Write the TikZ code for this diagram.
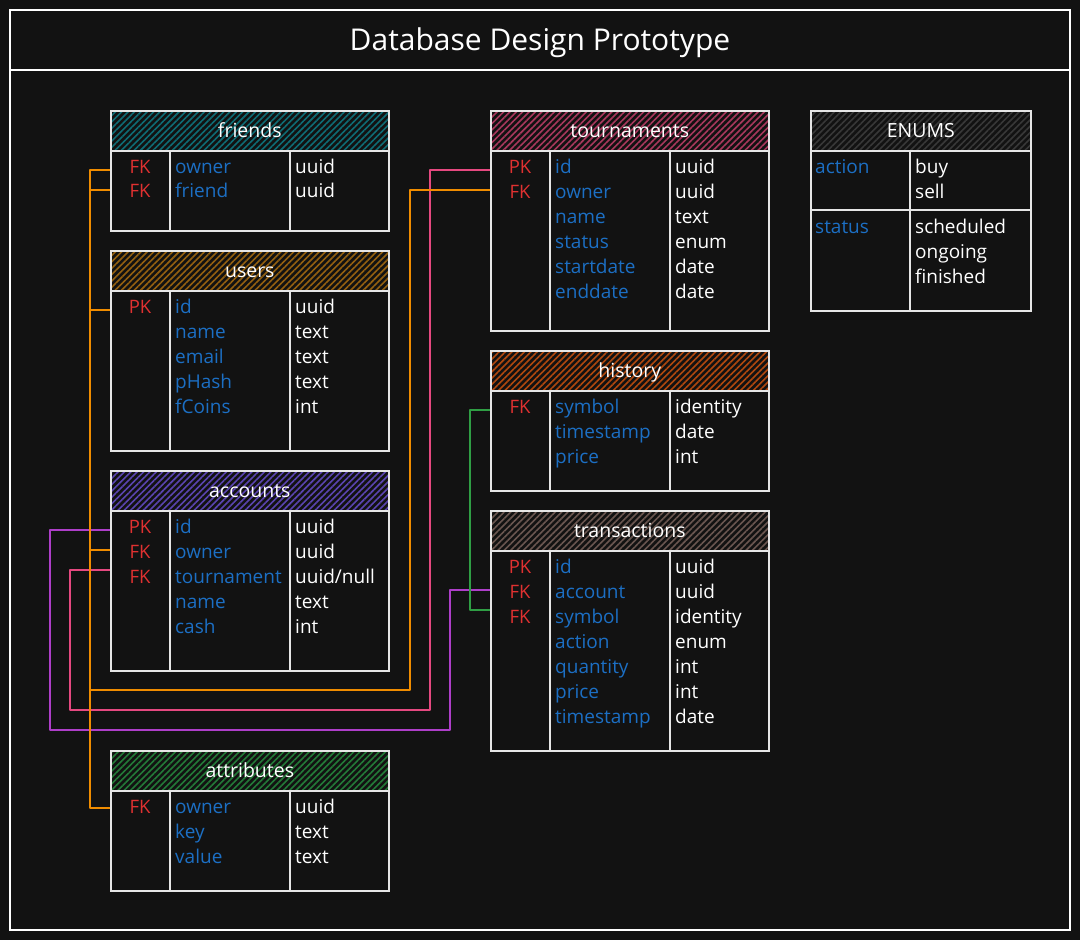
\documentclass[tikz,border=0pt]{standalone}
\usepackage{fontspec}
\setmainfont{Open Sans}
\usetikzlibrary{patterns.meta}
\definecolor{bg}{HTML}{121212}
\definecolor{tline}{HTML}{E6E6E6}
\definecolor{keyred}{HTML}{E03131}
\definecolor{fieldblue}{HTML}{1C6FC4}
\definecolor{corange}{HTML}{F08C00}
\definecolor{cpink}{HTML}{E64980}
\definecolor{cpurple}{HTML}{AE3EC9}
\definecolor{cgreen}{HTML}{2F9E44}
\definecolor{hteal}{HTML}{0E6C75}
\definecolor{hbrown}{HTML}{946010}
\definecolor{hpurple}{HTML}{5A44B0}
\definecolor{hpink}{HTML}{A8385C}
\definecolor{horange}{HTML}{B0480E}
\definecolor{hgray}{HTML}{6A5650}
\definecolor{hgreen}{HTML}{237A38}
\definecolor{hdark}{HTML}{383838}
\tikzset{
  hdr/.style={draw=tline, line width=1.6pt, minimum height=40pt, inner sep=0pt,
    text=white, text height=14pt, text depth=0pt,
    font=\fontsize{19.5}{22}\selectfont,
    pattern={Lines[angle=45,distance=4.5pt,line width=1.6pt]}},
  tbody/.style={draw=tline, line width=1.6pt, inner sep=0pt},
  grid/.style={draw=tline, line width=1.6pt},
  keyt/.style={text=keyred, anchor=base, inner sep=0pt, font=\fontsize{18.5}{22}\selectfont},
  fieldt/.style={text=fieldblue, anchor=base west, inner sep=0pt, font=\fontsize{19}{22}\selectfont},
  typet/.style={text=white, anchor=base west, inner sep=0pt, font=\fontsize{19}{22}\selectfont},
  con/.style={line width=2.2pt, line join=round},
  frame/.style={draw=white, line width=2pt},
}
% name, left, top, width, body height, column 1, column 2, title, colour
\newcommand{\dbtable}[9]{%
  \node[hdr, pattern color=#9, minimum width=#4pt, anchor=north west] (#1-h) at (#2,#3) {#8};
  \node[tbody, minimum width=#4pt, minimum height=#5pt, anchor=north west] (#1-b) at (#2,#3+40) {};
  \draw[grid] (#2+#6,#3+40) -- (#2+#6,#3+40+#5);
  \draw[grid] (#2+#7,#3+40) -- (#2+#7,#3+40+#5);
}
\newcommand{\dbkey}[4]{\node[keyt] (#1) at (#2+30,#3) {#4};}
\newcommand{\dbfield}[5]{\node[fieldt] (#1-f) at (#2+65,#3) {#4};\node[typet] (#1-t) at (#2+185,#3) {#5};}
\begin{document}
\begin{tikzpicture}[x=1pt,y=-1pt]
\fill[bg] (0,0) rectangle (1080,940);
\useasboundingbox (0,0) rectangle (1080,940);
% frame
\draw[frame] (10,10) rectangle (1070,930);
\draw[frame] (10,70) -- (1070,70);
\node[text=white, anchor=base, inner sep=0pt, font=\fontsize{30}{34}\selectfont] (title) at (540,50) {Database Design Prototype};

% connector anchor points
\coordinate (fr-p1) at (110,170);
\coordinate (fr-p2) at (110,190);
\coordinate (us-p1) at (110,310);
\coordinate (ac-p1) at (110,530);
\coordinate (ac-p2) at (110,550);
\coordinate (ac-p3) at (110,570);
\coordinate (at-p1) at (110,808);
\coordinate (tn-p1) at (490,170);
\coordinate (tn-p2) at (490,190);
\coordinate (hi-p1) at (490,410);
\coordinate (tx-p2) at (490,590);
\coordinate (tx-p3) at (490,610);
\coordinate (oT) at (90,170);
\coordinate (oB) at (90,808);
\coordinate (oJ) at (410,690);
\coordinate (pA) at (70,710);
\coordinate (pB) at (430,710);
\coordinate (uA) at (50,730);
\coordinate (uB) at (450,730);
\coordinate (gA) at (470,610);

% connectors
\draw[con, cpurple] (ac-p1) -| (uA) -- (uB) |- (tx-p2);
\draw[con, cpink] (ac-p3) -| (pA) -- (pB) |- (tn-p1);
\draw[con, cgreen] (hi-p1) -| (gA) -- (tx-p3);
\draw[con, corange] (fr-p1) -- (oT) -- (oB) -- (at-p1);
\draw[con, corange] (fr-p2) -- (fr-p2 -| oT);
\draw[con, corange] (us-p1) -- (us-p1 -| oT);
\draw[con, corange] (ac-p2) -- (ac-p2 -| oT);
\draw[con, corange] (tn-p2) -| (oJ) -- (oJ -| oT);

% friends
\dbtable{fr}{110}{110}{278}{80}{60}{180}{friends}{hteal}
\dbkey{fr-k1}{110}{173}{FK}
\dbkey{fr-k2}{110}{197}{FK}
\dbfield{fr-r1}{110}{173}{owner}{uuid}
\dbfield{fr-r2}{110}{197}{friend}{uuid}

% users
\dbtable{us}{110}{250}{278}{160}{60}{180}{users}{hbrown}
\dbkey{us-k1}{110}{313}{PK}
\dbfield{us-r1}{110}{313}{id}{uuid}
\dbfield{us-r2}{110}{338}{name}{text}
\dbfield{us-r3}{110}{363}{email}{text}
\dbfield{us-r4}{110}{388}{pHash}{text}
\dbfield{us-r5}{110}{413}{fCoins}{int}

% accounts
\dbtable{ac}{110}{470}{278}{160}{60}{180}{accounts}{hpurple}
\dbkey{ac-k1}{110}{533}{PK}
\dbkey{ac-k2}{110}{558}{FK}
\dbkey{ac-k3}{110}{583}{FK}
\dbfield{ac-r1}{110}{533}{id}{uuid}
\dbfield{ac-r2}{110}{558}{owner}{uuid}
\dbfield{ac-r3}{110}{583}{tournament}{uuid/null}
\dbfield{ac-r4}{110}{608}{name}{text}
\dbfield{ac-r5}{110}{633}{cash}{int}

% attributes
\dbtable{at}{110}{750}{278}{100}{60}{180}{attributes}{hgreen}
\dbkey{at-k1}{110}{813}{FK}
\dbfield{at-r1}{110}{813}{owner}{uuid}
\dbfield{at-r2}{110}{838}{key}{text}
\dbfield{at-r3}{110}{863}{value}{text}

% tournaments
\dbtable{tn}{490}{110}{278}{180}{60}{180}{tournaments}{hpink}
\dbkey{tn-k1}{490}{173}{PK}
\dbkey{tn-k2}{490}{198}{FK}
\dbfield{tn-r1}{490}{173}{id}{uuid}
\dbfield{tn-r2}{490}{198}{owner}{uuid}
\dbfield{tn-r3}{490}{223}{name}{text}
\dbfield{tn-r4}{490}{248}{status}{enum}
\dbfield{tn-r5}{490}{273}{startdate}{date}
\dbfield{tn-r6}{490}{298}{enddate}{date}

% history
\dbtable{hi}{490}{350}{278}{100}{60}{180}{history}{horange}
\dbkey{hi-k1}{490}{413}{FK}
\dbfield{hi-r1}{490}{413}{symbol}{identity}
\dbfield{hi-r2}{490}{438}{timestamp}{date}
\dbfield{hi-r3}{490}{463}{price}{int}

% transactions
\dbtable{tx}{490}{510}{278}{200}{60}{180}{transactions}{hgray}
\dbkey{tx-k1}{490}{573}{PK}
\dbkey{tx-k2}{490}{598}{FK}
\dbkey{tx-k3}{490}{623}{FK}
\dbfield{tx-r1}{490}{573}{id}{uuid}
\dbfield{tx-r2}{490}{598}{account}{uuid}
\dbfield{tx-r3}{490}{623}{symbol}{identity}
\dbfield{tx-r4}{490}{648}{action}{enum}
\dbfield{tx-r5}{490}{673}{quantity}{int}
\dbfield{tx-r6}{490}{698}{price}{int}
\dbfield{tx-r7}{490}{723}{timestamp}{date}

% ENUMS
\node[hdr, pattern color=hdark, minimum width=220pt, anchor=north west] (en-h) at (810,110) {ENUMS};
\node[tbody, minimum width=220pt, minimum height=160pt, anchor=north west] (en-b) at (810,150) {};
\draw[grid] (810,210) -- (1030,210);
\draw[grid] (910,150) -- (910,310);
\node[fieldt] (en-a) at (815,173) {action};
\node[typet] (en-a1) at (915,173) {buy};
\node[typet] (en-a2) at (915,198) {sell};
\node[fieldt] (en-s) at (815,233) {status};
\node[typet] (en-s1) at (915,233) {scheduled};
\node[typet] (en-s2) at (915,258) {ongoing};
\node[typet] (en-s3) at (915,283) {finished};
\end{tikzpicture}
\end{document}
